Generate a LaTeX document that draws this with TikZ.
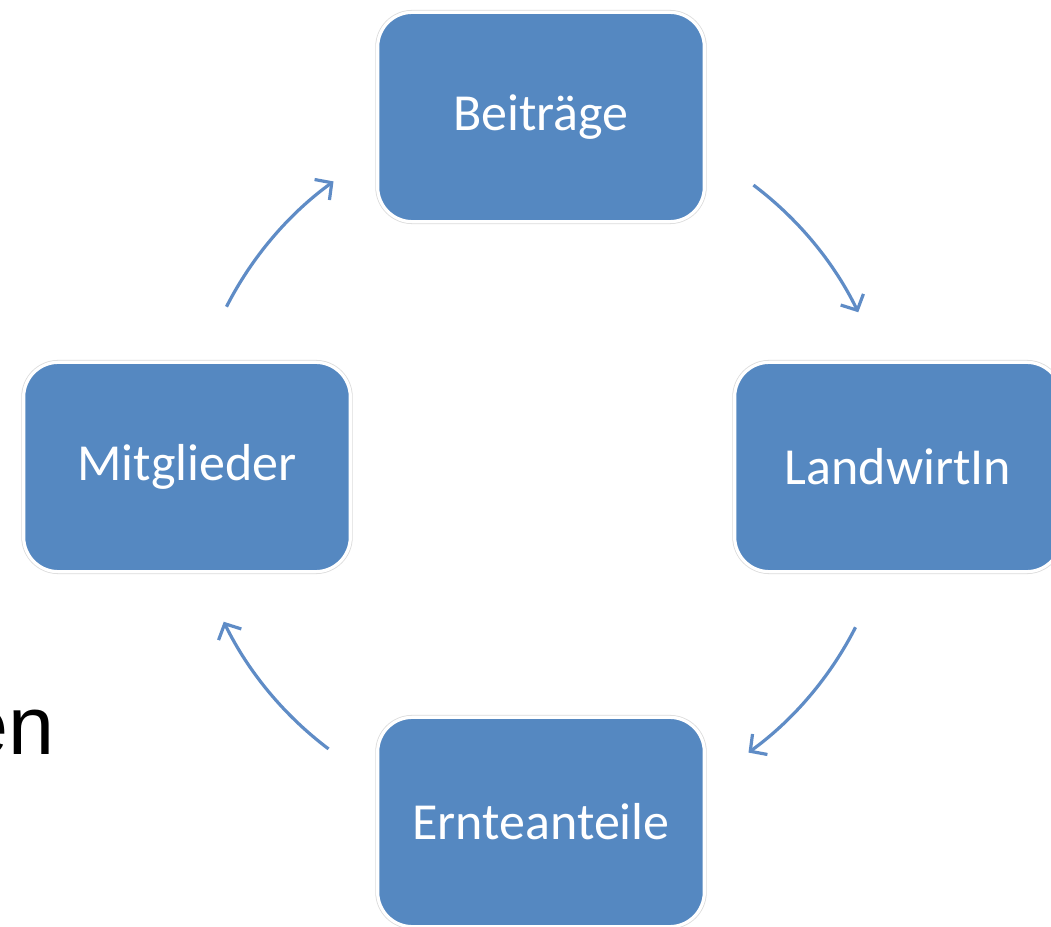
\documentclass[tikz,border=0pt]{standalone}
\usepackage{fontspec}
\setmainfont{Carlito}
\newfontfamily\arialfont{Liberation Sans}
\usetikzlibrary{arrows.meta}
\definecolor{boxblue}{RGB}{85,136,193}
\definecolor{arrowblue}{RGB}{95,140,198}
\tikzset{
    stage/.style={fill=boxblue, draw=white, line width=2.4pt, rounded corners=26pt,
        preaction={draw=black!14, line width=3.6pt},
        minimum width=245pt, minimum height=157pt, inner sep=0pt,
        text=white, font=\fontsize{39}{46}\selectfont},
    flow/.style={draw=arrowblue, line width=2.4pt, -{Straight Barb[length=9pt,width=19pt,line width=2.4pt]}}
}
\begin{document}
\begin{tikzpicture}[x=0.75pt, y=0.75pt]
        \useasboundingbox (0,0) rectangle (1051,926);
        \node[stage] (beitraege) at (541,809) {Beiträge};
        \node[stage] (landwirt) at (898,459) {LandwirtIn};
        \node[stage] (ernte) at (541,104) {Ernteanteile};
        \node[stage] (mitglieder) at (187,459) {Mitglieder};
        \node[anchor=base east, inner sep=0pt, font=\arialfont\fontsize{62}{70}\selectfont] (rest) at (55,171) {en};
        % arcs of the cycle around the centre
        \coordinate (c) at (541,459);
        \path (c) ++(53:353) coordinate (a1);
        \path (c) ++(-27:353) coordinate (a2);
        \path (c) ++(-127:353) coordinate (a3);
        \path (c) ++(153:353) coordinate (a4);
        \draw[flow] (a1) arc[start angle=53, end angle=26, radius=264.75pt];
        \draw[flow] (a2) arc[start angle=-27, end angle=-54, radius=264.75pt];
        \draw[flow] (a3) arc[start angle=-127, end angle=-154, radius=264.75pt];
        \draw[flow] (a4) arc[start angle=153, end angle=126, radius=264.75pt];
    \end{tikzpicture}
\end{document}
